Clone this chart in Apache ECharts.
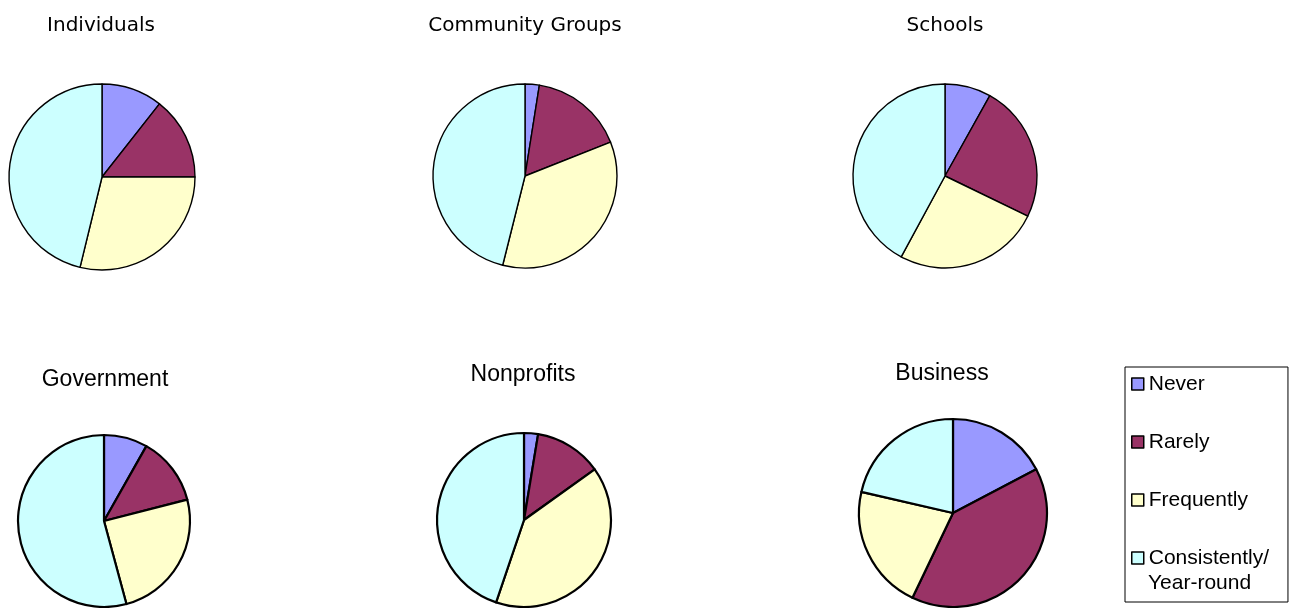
<!DOCTYPE html>
<html>
<head>
<meta charset="utf-8">
<script src="https://cdn.jsdelivr.net/npm/echarts@6/dist/echarts.min.js"></script>
<style>
  html, body { margin: 0; padding: 0; background: #fff; }
  #chart { width: 1289px; height: 608px; }
</style>
</head>
<body>
<div id="chart"></div>
<script>
// frequency answers (slice names)
const categories = ["Never", "Rarely", "Frequently", "Consistently/Year-round"];

// one pie per sector, shares in percent
const sectors = ["Individuals", "Community Groups", "Schools", "Government", "Nonprofits", "Business"];
const individuals = [10.6, 14.4, 28.8, 46.2];
const communityGroups = [2.5, 16.5, 34.9, 46.1];
const schools = [8.1, 24.1, 25.7, 42.1];
const government = [8.2, 12.8, 24.8, 54.2];
const nonprofits = [2.6, 12.5, 40.1, 44.8];
const business = [17.3, 39.8, 21.5, 21.4];

const sectorValues = [individuals, communityGroups, schools, government, nonprofits, business];
const colors = ["#9999FF", "#993366", "#FFFFCC", "#CCFFFF"];

// layout of each pie: center, radius, title position, title style
const layout = [
    { cx: 102, cy: 177, r: 93, tx: 101, ty: 15, top: true },
    { cx: 525, cy: 176, r: 92, tx: 525, ty: 15, top: true },
    { cx: 945, cy: 176, r: 92, tx: 945, ty: 15, top: true },
    { cx: 104, cy: 521, r: 86, tx: 105, ty: 368, top: false },
    { cx: 524, cy: 520, r: 87, tx: 523, ty: 363, top: false },
    { cx: 953, cy: 513, r: 94, tx: 942, ty: 362, top: false }
];

const legendFont = "Liberation Sans";
const legendSize = 21;

const chart = echarts.init(document.getElementById("chart"), null, { renderer: "canvas" });

const titles = sectors.map((name, i) => {
    const l = layout[i];
    return {
        text: name,
        left: l.tx,
        top: l.ty,
        textAlign: "center",
        padding: 0,
        textStyle: l.top
            ? { fontFamily: "DejaVu Sans", fontSize: 20, fontWeight: "normal", color: "#000", lineHeight: 22 }
            : { fontFamily: "Liberation Sans", fontSize: 23, fontWeight: "normal", color: "#000", lineHeight: 24 }
    };
});

const series = sectors.map((name, i) => {
    const l = layout[i];
    return {
        name: name,
        type: "pie",
        center: [l.cx, l.cy],
        radius: [0, l.r],
        startAngle: 90,
        clockwise: true,
        avoidLabelOverlap: false,
        label: { show: false },
        labelLine: { show: false },
        emphasis: { disabled: true },
        itemStyle: { borderColor: "#000", borderWidth: l.top ? 1.4 : 2.2 },
        data: categories.map((c, k) => ({
            name: c,
            value: sectorValues[i][k],
            itemStyle: { color: colors[k] }
        }))
    };
});

const option = {
    animation: false,
    backgroundColor: "#fff",
    color: colors,
    title: titles,
    legend: {
        orient: "vertical",
        left: 1125,
        top: 367,
        height: 400,
        padding: [4, 19, 31, 6],
        itemGap: 32,
        itemWidth: 12,
        itemHeight: 12,
        icon: "rect",
        borderColor: "#000",
        borderWidth: 1,
        selectedMode: false,
        itemStyle: { borderColor: "#000", borderWidth: 1.5 },
        textStyle: { fontFamily: legendFont, fontSize: legendSize, color: "#000", lineHeight: 26 },
        // the second line of the last entry is drawn below it, under the first line
        formatter: (name) => name.split("/").length > 1 ? name.split("/")[0] + "/" : name,
        data: categories
    },
    graphic: [{
        type: "text",
        x: 1148,
        y: 583,
        style: {
            text: categories[3].split("/")[1],
            fontFamily: legendFont,
            fontSize: legendSize,
            fill: "#000",
            verticalAlign: "middle"
        }
    }],
    series: series
};

chart.setOption(option);
window.addEventListener("resize", () => chart.resize());
</script>
</body>
</html>
